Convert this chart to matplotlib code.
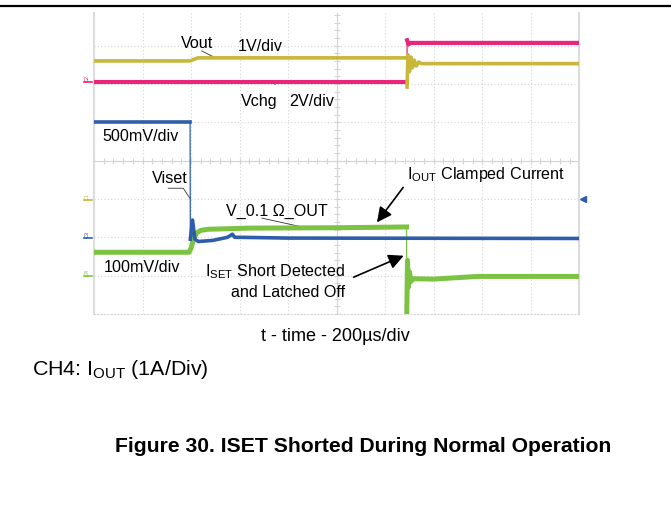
import matplotlib
matplotlib.use("Agg")
import matplotlib.pyplot as plt
from matplotlib.lines import Line2D
import numpy as np

plt.rcParams['font.family'] = ['Liberation Sans', 'DejaVu Sans']
plt.rcParams['mathtext.fontset'] = 'custom'
plt.rcParams['mathtext.rm'] = 'Liberation Sans'
plt.rcParams['mathtext.it'] = 'Liberation Sans'

# ---- trace data (time in divisions, value in divisions) ----
ch1_t = [0, 1.98, 2.14, 6.44, 6.45, 6.47, 6.50, 6.53, 6.56, 6.60, 6.64, 6.69, 6.75, 10]
ch1_v = [6.60, 6.60, 6.68, 6.68, 5.92, 6.76, 6.32, 6.70, 6.42, 6.62, 6.47, 6.57, 6.53, 6.53]

ch2_t = [0, 6.45, 6.452, 6.48, 6.52, 10]
ch2_v = [6.05, 6.05, 7.14, 7.03, 7.07, 7.07]

ch3_t = [0, 1.98, 1.985, 2.03, 2.08, 2.15, 2.45, 2.75, 2.85, 2.90, 3.0, 4.0, 10]
ch3_v = [5.02, 5.02, 1.95, 2.45, 1.95, 1.89, 1.92, 2.00, 2.08, 2.00, 2.00, 1.98, 1.97]

ch4_t = [0, 1.96, 2.00, 2.05, 2.12, 2.20, 2.35, 3.2, 5.0, 6.44, 6.445, 6.46, 6.48, 6.50, 6.53, 6.58, 7.0, 7.9, 10]
ch4_v = [1.61, 1.61, 1.72, 1.95, 2.12, 2.18, 2.21, 2.24, 2.25, 2.27, 0.02, 1.40, 0.70, 1.10, 0.85, 0.92, 0.91, 0.98, 0.98]

ch_labels = ["C2", "C1", "C3", "C4"]
ch_levels = [6.05, 2.98, 1.98, 0.99]

c_yel = "#C8B73A"
c_mag = "#E8277B"
c_blu = "#2F5DA9"
c_grn = "#7DC343"
ch_colors = [c_mag, c_yel, c_blu, c_grn]

fig = plt.figure(figsize=(6.71, 5.06), dpi=100)
ax = fig.add_axes([94/671, 1-315/506, 485.3/671, 301/506])
ax.set_xlim(0, 10)
ax.set_ylim(0, 7.85)


def draw_trace(t, v, color, lw, z):
    """Thick line for slow parts, thin line for fast edges (like a scope)."""
    seg_t, seg_v = [t[0]], [v[0]]
    for i in range(1, len(t)):
        if t[i] - t[i-1] < 0.01:
            if len(seg_t) > 1:
                ax.plot(seg_t, seg_v, color=color, lw=lw, zorder=z)
            ax.plot([t[i-1], t[i]], [v[i-1], v[i]], color=color, lw=0.9, zorder=z)
            seg_t, seg_v = [t[i]], [v[i]]
        else:
            seg_t.append(t[i]); seg_v.append(v[i])
    if len(seg_t) > 1:
        ax.plot(seg_t, seg_v, color=color, lw=lw, zorder=z)


# graticule
gc = "#d4d4d4"
for x in range(1, 10):
    ax.axvline(x, color=gc, lw=0.8, ls=(0, (1, 2)), zorder=0)
for y in range(1, 8):
    ax.axhline(y, color=gc, lw=0.8, ls=(0, (1, 2)), zorder=0)
ax.axvline(5, color=gc, lw=0.8, zorder=0)
ax.axhline(4, color=gc, lw=0.8, zorder=0)
mt = np.arange(0, 10.01, 0.2)
ax.plot(mt, np.full_like(mt, 4), ls='none', marker='|', ms=4, color=gc, mew=0.8, zorder=0)
mv = np.arange(0, 7.85, 0.2)
ax.plot(np.full_like(mv, 5), mv, ls='none', marker='_', ms=4, color=gc, mew=0.8, zorder=0)
ax.set_xticks([]); ax.set_yticks([])
for s in ['left', 'right']:
    ax.spines[s].set_color("#dcdcdc"); ax.spines[s].set_linewidth(1.5)
ax.spines['top'].set_visible(False)
ax.spines['bottom'].set_color(gc); ax.spines['bottom'].set_linewidth(0.8)
ax.spines['bottom'].set_linestyle((0, (1, 2)))

# traces
draw_trace(ch2_t, ch2_v, c_mag, 3.0, 3)
draw_trace(ch1_t, ch1_v, c_yel, 2.6, 4)
draw_trace(ch4_t, ch4_v, c_grn, 3.6, 3)
draw_trace(ch3_t, ch3_v, c_blu, 2.6, 4)

# channel ground markers
for lab, lev, col in zip(ch_labels, ch_levels, ch_colors):
    ax.text(-0.13, lev + 0.02, lab, rotation=90, fontsize=4, color=col,
            ha='center', va='bottom', clip_on=False)
    ax.plot([-0.2, -0.04], [lev, lev], color=col, lw=1.2, clip_on=False)
ax.plot([10.08], [3.0], marker='<', color=c_blu, ms=4, clip_on=False)

fs = 11.6
ax.text(2.13, 7.08, "Vout", fontsize=fs, ha='center', va='center')
ax.text(3.42, 7.0, "1V/div", fontsize=fs, ha='center', va='center')
ax.text(3.40, 5.57, "Vchg", fontsize=fs, ha='center', va='center')
ax.text(4.48, 5.57, "2V/div", fontsize=fs, ha='center', va='center')
ax.text(0.95, 4.65, "500mV/div", fontsize=fs, ha='center', va='center')
ax.text(1.57, 3.57, "Viset", fontsize=fs, ha='center', va='center')
ax.text(6.45, 3.66, r"I$_{\mathrm{OUT}}$ Clamped Current", fontsize=fs, ha='left', va='center')
ax.text(3.77, 2.70, "V_0.1 Ω_OUT", fontsize=fs, ha='center', va='center')
ax.text(0.98, 1.24, "100mV/div", fontsize=fs, ha='center', va='center')
ax.text(5.18, 1.13, r"I$_{\mathrm{SET}}$ Short Detected", fontsize=fs, ha='right', va='center')
ax.text(5.18, 0.58, "and Latched Off", fontsize=fs, ha='right', va='center')

lc = "#333333"
ax.plot([2.22, 2.49], [6.86, 6.69], color=lc, lw=0.6)
ax.plot([3.59, 3.73], [6.08, 5.99], color=lc, lw=0.6)
ax.plot([1.53, 1.84, 1.98], [3.28, 3.28, 3.01], color=lc, lw=0.6)
ax.plot([3.46, 4.29], [2.50, 2.27], color=lc, lw=0.6)

ap = dict(arrowstyle='-|>,head_length=0.9,head_width=0.45', color='black', lw=1.2, shrinkA=0, shrinkB=0)
ax.annotate("", xy=(5.83, 2.39), xytext=(6.37, 3.30), arrowprops=ap)
ax.annotate("", xy=(6.38, 1.52), xytext=(5.35, 0.96), arrowprops=ap)

# figure texts
fig.add_artist(Line2D([0, 1], [1-7/506, 1-7/506], color='black', lw=1.6))
fig.text(335.5/671, 1-336.7/506, "t - time - 200µs/div", fontsize=13, ha='center', va='center')
fig.text(32/671, 1-370/506, r"CH4: I$_{\mathrm{OUT}}$ (1A/Div)", fontsize=15.4, ha='left', va='center')
fig.text(363/671, 1-446.7/506, "Figure 30. ISET Shorted During Normal Operation",
         fontsize=15.2, fontweight='bold', ha='center', va='center')

fig.savefig("out.png", dpi=100)
